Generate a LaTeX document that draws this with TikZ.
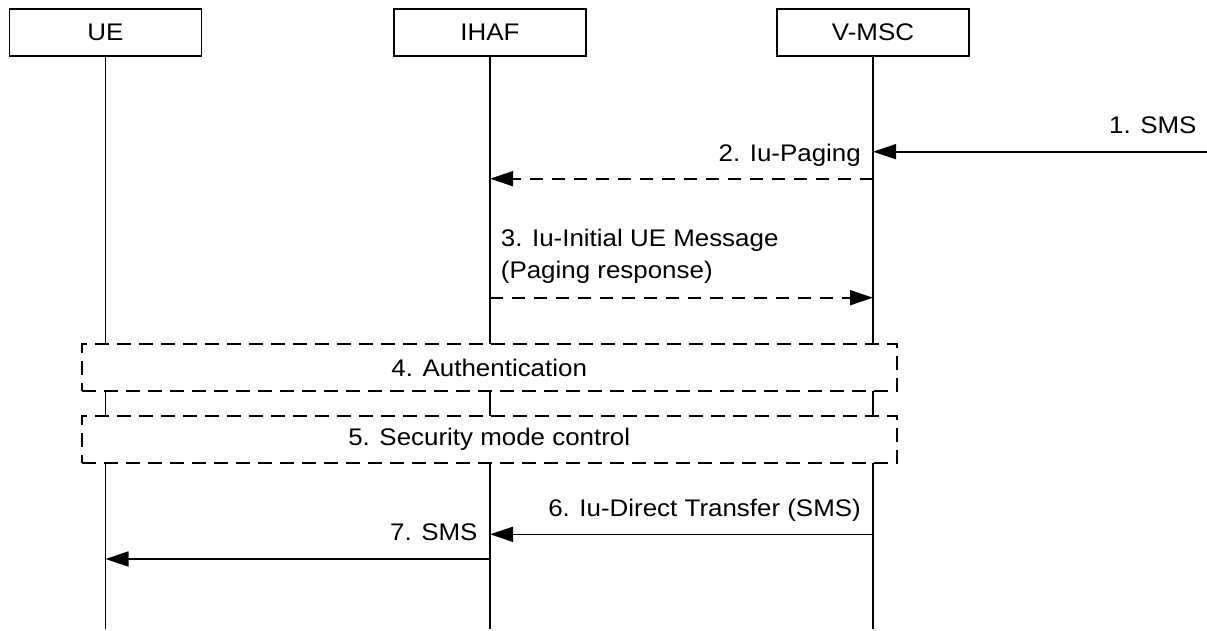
\documentclass[tikz,border=0pt]{standalone}
\usepackage{fontspec}
\setmainfont{Liberation Sans}[FakeStretch=1.08]
\usetikzlibrary{arrows.meta}
\begin{document}
\begin{tikzpicture}[x=1pt,y=-1pt,
  every node/.style={font=\fontsize{24}{31.7}\selectfont, inner sep=0pt},
  entity/.style={draw, line width=1.7pt, minimum width=192pt, minimum height=47pt, fill=white},
  life/.style={line width=1.7pt},
  msg/.style={line width=1.6pt, -{Triangle[length=23pt,width=15pt]}},
  dmsg/.style={msg, dash pattern=on 13pt off 9pt},
  procbox/.style={draw, line width=1.7pt, dash pattern=on 14pt off 8pt, fill=white, minimum width=815pt, minimum height=47pt},
  lbl/.style={anchor=base east}]
\useasboundingbox (0,0) rectangle (1207,630);
% entities
\node[entity] (ue) at (105.5,32.5) {UE};
\node[entity] (ihaf) at (490,32.5) {IHAF};
\node[entity] (vmsc) at (873,32.5) {V-MSC};
% lifeline ends
\coordinate (ueend) at (105.5,629);
\coordinate (ihafend) at (490,629);
\coordinate (vmscend) at (873,629);
\draw[life] (ue.south) -- (ueend);
\draw[life] (ihaf.south) -- (ihafend);
\draw[life] (vmsc.south) -- (vmscend);
% message points
\coordinate (ext1) at (1207,151.7);
\coordinate (v1) at (873,151.7);
\coordinate (v2) at (873,178.7);
\coordinate (i2) at (490,178.7);
\coordinate (i3) at (490,297.7);
\coordinate (v3) at (873,297.7);
\coordinate (v6) at (873,534.3);
\coordinate (i6) at (490,534.3);
\coordinate (i7) at (490,559);
\coordinate (u7) at (105.5,559);
% messages
\draw[msg] (ext1) -- (v1);
\node[lbl] (l1) at (1196.7,133) {1. SMS};
\draw[dmsg] (v2) -- (i2);
\node[lbl] (l2) at (861,161.7) {2. Iu-Paging};
\draw[dmsg] (i3) -- (v3);
\node[anchor=base west] (l3a) at (500.7,246.7) {3. Iu-Initial UE Message};
\node[anchor=base west] (l3b) at (500.7,278.3) {(Paging response)};
% procedure boxes
\node[procbox] (auth) at (489.2,367.5) {4. Authentication};
\node[procbox] (sec) at (489.2,439.5) {5. Security mode control};
% direct transfer
\draw[msg] (v6) -- (i6);
\node[lbl] (l6) at (861,516.4) {6. Iu-Direct Transfer (SMS)};
\draw[msg] (i7) -- (u7);
\node[lbl] (l7) at (477.7,540.7) {7. SMS};
\end{tikzpicture}
\end{document}
